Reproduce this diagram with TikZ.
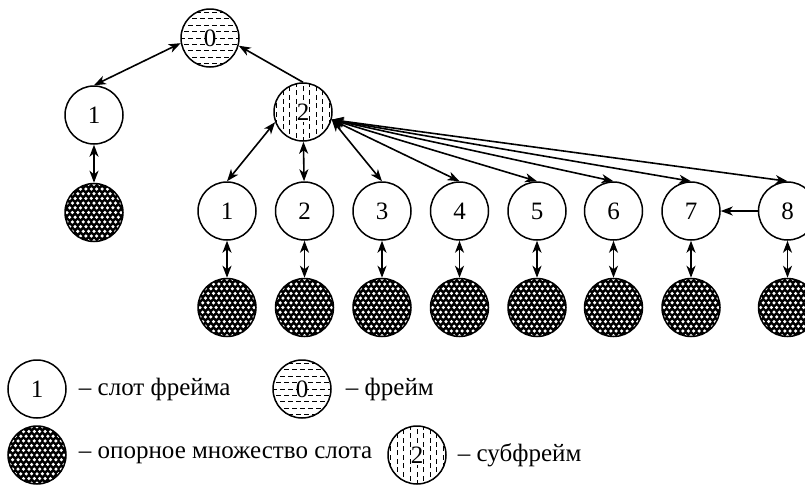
\documentclass[tikz,border=0pt]{standalone}
\usepackage{fontspec}
\setmainfont{Liberation Serif}
\usetikzlibrary{arrows.meta,positioning}

\tikzset{
  slot/.style={circle,draw,line width=1.5pt,minimum size=58pt,inner sep=0pt,fill=white},
  frame/.style={slot,path picture={
      \foreach \k in {-4,...,4}{
        \pgfmathsetmacro\ph{mod(\k+4,2)*4}
        \draw[line width=1pt,dash pattern=on 4.5pt off 3.5pt,dash phase=\ph pt]
          ([xshift=-30pt,yshift=\k*6.4pt]path picture bounding box.center) -- ++(60pt,0pt);
      }
      \fill[white] ([xshift=-5pt,yshift=-10pt]path picture bounding box.center) rectangle ++(10pt,20pt);
  }},
  subframe/.style={slot,path picture={
      \foreach \k in {-4,...,4}{
        \pgfmathsetmacro\ph{mod(\k+4,2)*4}
        \draw[line width=1pt,dash pattern=on 5pt off 3.5pt,dash phase=\ph pt]
          ([xshift=\k*6.6pt,yshift=-30pt]path picture bounding box.center) -- ++(0pt,60pt);
      }
      \fill[white] ([xshift=-6pt,yshift=-10pt]path picture bounding box.center) rectangle ++(12pt,20pt);
  }},
  support/.style={slot,fill=black,path picture={
      \foreach \j in {-6,...,6}{
        \foreach \i in {-6,...,6}{
          \pgfmathsetmacro\dx{\i*5.4+mod(\j+6,2)*2.7}
          \fill[white] ([xshift=\dx pt,yshift=\j*4.7pt]path picture bounding box.center) circle[radius=1.75pt];
        }
      }
  }}
}

\begin{document}
\begin{tikzpicture}[x=1pt,y=-1pt,font=\fontsize{25}{30}\selectfont,
  >={Stealth[length=12pt,width=9pt,inset=3.5pt]},
  link/.style={line width=1.6pt}]

\useasboundingbox (0,0) rectangle (805,485);

% frame, its slot and the subframe
\node[frame] (f0) at (210,38) {0};
\node[slot] (sl1) at (94,115) {1};
\node[support, below=38pt of sl1] (st0) {};
\node[subframe] (sf2) at (303,112) {2};

% slots of the subframe
\node[slot] (r2s1) at (227,211) {1};
\node[slot, right=18pt of r2s1] (r2s2) {2};
\node[slot, right=18pt of r2s2] (r2s3) {3};
\node[slot, right=18pt of r2s3] (r2s4) {4};
\node[slot, right=18pt of r2s4] (r2s5) {5};
\node[slot, right=17pt of r2s5] (r2s6) {6};
\node[slot, right=18pt of r2s6] (r2s7) {7};
\node[slot, right=37pt of r2s7] (r2s8) {8};

% support sets
\node[support, below=37pt of r2s1] (r3s1) {};
\node[support, below=37pt of r2s2] (r3s2) {};
\node[support, below=37pt of r2s3] (r3s3) {};
\node[support, below=37pt of r2s4] (r3s4) {};
\node[support, below=37pt of r2s5] (r3s5) {};
\node[support, below=37pt of r2s6] (r3s6) {};
\node[support, below=37pt of r2s7] (r3s7) {};
\node[support, below=37pt of r2s8] (r3s8) {};

\draw[link,<->] (f0.190) -- (sl1.north);
\draw[link,->] (sf2.north) -- (f0.-15);
\draw[link,<->] (sl1) -- (st0);

\draw[link,<->] (sf2.200) -- (r2s1.north);
\draw[link,<->] (sf2) -- (r2s2);
\draw[link,<->] (sf2.-15) -- (r2s3.north);
\draw[link,<->] (sf2.-15) -- (r2s4.north);
\draw[link,<->] (sf2.-15) -- (r2s5.north);
\draw[link,<->] (sf2.-15) -- (r2s6.north);
\draw[link,<->] (sf2.-15) -- (r2s7.north);
\draw[link,<->] (sf2.-15) -- (r2s8.north);
\draw[link,->] (r2s8) -- (r2s7);

\draw[link,<->] (r2s1) -- (r3s1);
\draw[link,<->] (r2s2) -- (r3s2);
\draw[link,<->] (r2s3) -- (r3s3);
\draw[link,<->] (r2s4) -- (r3s4);
\draw[link,<->] (r2s5) -- (r3s5);
\draw[link,<->] (r2s6) -- (r3s6);
\draw[link,<->] (r2s7) -- (r3s7);
\draw[link,<->] (r2s8) -- (r3s8);

% legend
\node[slot] (k1) at (37,389) {1};
\node[right=12pt of k1, inner sep=0pt] (k1t) {– слот фрейма};
\node[frame] (k0) at (302,389) {0};
\node[right=14pt of k0, inner sep=0pt] (k0t) {– фрейм};
\node[support] (kd) at (37,455) {};
\node[right=12pt of kd, inner sep=0pt] (kdt) {– опорное множество слота};
\node[subframe] (k2) at (417,455) {2};
\node[right=11pt of k2, inner sep=0pt] (k2t) {– субфрейм};

\end{tikzpicture}
\end{document}
